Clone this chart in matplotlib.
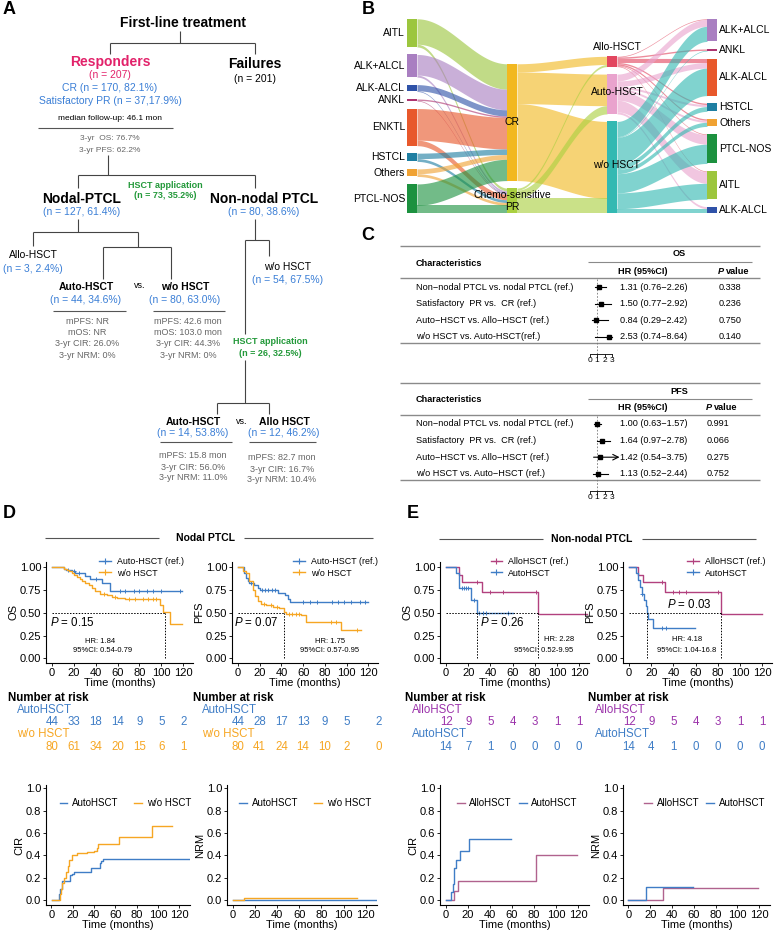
import numpy as np
import matplotlib.pyplot as plt
from matplotlib.lines import Line2D

plt.rcParams['font.family'] = ['Liberation Sans', 'DejaVu Sans']
plt.rcParams['mathtext.fontset'] = 'custom'
plt.rcParams['mathtext.it'] = 'Liberation Sans:italic'
plt.rcParams['mathtext.rm'] = 'Liberation Sans'

# ---------------- data ----------------
# Sankey (B)
sub_names = ["AITL", "ALK+ALCL", "ALK-ALCL", "ANKL", "ENKTL", "HSTCL", "Others", "PTCL-NOS"]
sub_colors = ["#9cc63e", "#a97fc1", "#2f52a8", "#ad3470", "#e8582b", "#1f7fa2", "#f0a233", "#1c913f"]
sub_cr = [37, 30, 9, 2, 46, 8, 7, 31]
sub_pr = [4, 3, 1, 1, 8, 4, 4, 12]
resp_names = ["CR", "Chemo-sensitive\nPR"]
resp_colors = ["#f2b820", "#aad040"]
hsct_names = ["Allo-HSCT", "Auto-HSCT", "w/o HSCT"]
hsct_colors = ["#e2465f", "#e9a3cd", "#33b9b2"]
cr_hsct = [12, 46, 112]
pr_hsct = [3, 12, 22]
right_names = ["ALK+ALCL", "ANKL", "ALK-ALCL", "HSTCL", "Others", "PTCL-NOS", "AITL", "ALK-ALCL"]
right_idx = [1, 3, 4, 5, 6, 7, 0, 2]
allo_sub = [1, 2, 6, 2, 2, 1, 1, 0]
auto_sub = [10, 0, 8, 3, 3, 14, 17, 3]
wo_sub = [22, 1, 40, 7, 6, 28, 23, 7]

# Forest (C)
forest_rows_os = ["Non\u2212nodal PTCL vs. nodal PTCL (ref.)", "Satisfactory  PR vs.  CR (ref.)",
                  "Auto\u2212HSCT vs. Allo\u2212HSCT (ref.)", "w/o HSCT vs. Auto-HSCT(ref.)"]
forest_rows_pfs = ["Non\u2212nodal PTCL vs. nodal PTCL (ref.)", "Satisfactory  PR vs.  CR (ref.)",
                   "Auto\u2212HSCT vs. Allo\u2212HSCT (ref.)", "w/o HSCT vs. Auto\u2212HSCT (ref.)"]
os_hr = [1.31, 1.50, 0.84, 2.53]
os_lo = [0.76, 0.77, 0.29, 0.74]
os_hi = [2.26, 2.92, 2.42, 8.64]
os_p = ["0.338", "0.236", "0.750", "0.140"]
pfs_hr = [1.00, 1.64, 1.42, 1.13]
pfs_lo = [0.63, 0.97, 0.54, 0.52]
pfs_hi = [1.57, 2.78, 3.75, 2.44]
pfs_p = ["0.991", "0.066", "0.275", "0.752"]
pfs_arrow = [False, False, True, False]

# KM curves (D, E)
d_os_auto_t = [0, 10.7, 13, 18, 21, 30.5, 35, 46, 53.4, 119]
d_os_auto_s = [1, 0.98, 0.97, 0.955, 0.93, 0.90, 0.87, 0.83, 0.74, 0.74]
d_os_auto_c = [15, 20, 25, 40, 62, 67, 75, 80, 87, 92, 100, 117]
d_os_wo_t = [0, 10.7, 13.7, 16, 18, 20, 23, 25.5, 27.5, 30, 33.6, 37, 39.7, 44, 50, 55, 59.5, 67, 98.6, 102, 107.8, 119]
d_os_wo_s = [1, 0.98, 0.97, 0.955, 0.94, 0.91, 0.89, 0.87, 0.85, 0.82, 0.80, 0.77, 0.74, 0.71, 0.69, 0.675,
             0.663, 0.652, 0.58, 0.507, 0.373, 0.373]
d_os_wo_c = [48, 58, 70, 76, 83, 88, 92, 95]

d_pfs_auto_t = [0, 6, 7.6, 9, 10.6, 15, 18, 20.7, 36.5, 43, 46, 48, 120]
d_pfs_auto_s = [1, 0.93, 0.88, 0.85, 0.82, 0.80, 0.77, 0.746, 0.717, 0.69, 0.65, 0.616, 0.616]
d_pfs_auto_c = [12, 22, 25, 28, 31, 34, 60, 66, 73, 87, 92, 98, 104, 112, 117]
d_pfs_wo_t = [0, 4.5, 7.6, 10.6, 13.7, 16, 18, 21, 26, 32, 38, 42.5, 44, 57.7, 63, 94.8, 113]
d_pfs_wo_s = [1, 0.96, 0.93, 0.85, 0.75, 0.68, 0.627, 0.60, 0.58, 0.565, 0.547, 0.507, 0.49, 0.48, 0.40, 0.31, 0.31]
d_pfs_wo_c = [24, 30, 36, 47, 50, 53, 56, 86, 90, 110]

e_os_allo_t = [0, 11.6, 14.7, 32.4, 83.4, 127]
e_os_allo_s = [1, 0.917, 0.833, 0.728, 0.49, 0.49]
e_os_allo_c = [27.5, 40, 51, 81]
e_os_auto_t = [0, 8.5, 11.6, 22.3, 27.8, 60.5]
e_os_auto_s = [1, 0.93, 0.775, 0.64, 0.50, 0.50]
e_os_auto_c = [14, 16, 18, 20, 25, 30, 33, 36, 56]

e_pfs_allo_t = [0, 8.4, 12.7, 32.6, 83, 120]
e_pfs_allo_s = [1, 0.917, 0.833, 0.728, 0.49, 0.49]
e_pfs_allo_c = [30, 40, 45, 51, 80]
e_pfs_auto_t = [0, 6.6, 8.4, 9.6, 11.5, 13.5, 15, 16, 17, 22, 59.4]
e_pfs_auto_s = [1, 0.93, 0.86, 0.78, 0.71, 0.64, 0.57, 0.50, 0.43, 0.333, 0.333]
e_pfs_auto_c = [12, 30, 33]

# number at risk
risk_times = [0, 20, 40, 60, 80, 100, 120]
risk_times_d_pfs = [0, 20, 40, 60, 80, 100, 130]
d_os_risk_auto = [44, 33, 18, 14, 9, 5, 2]
d_os_risk_wo = [80, 61, 34, 20, 15, 6, 1]
d_pfs_risk_auto = [44, 28, 17, 13, 9, 5, 2]
d_pfs_risk_wo = [80, 41, 24, 14, 10, 2, 0]
e_os_risk_allo = [12, 9, 5, 4, 3, 1, 1]
e_os_risk_auto = [14, 7, 1, 0, 0, 0, 0]
e_pfs_risk_allo = [12, 9, 5, 4, 3, 1, 1]
e_pfs_risk_auto = [14, 4, 1, 0, 0, 0, 0]

# cumulative incidence
d_cir_auto_t = [1, 7, 8, 10, 17.7, 19, 21.4, 37, 45.6, 46.5, 48.7, 128.7]
d_cir_auto_v = [0, 0.05, 0.1, 0.173, 0.22, 0.23, 0.248, 0.284, 0.33, 0.35, 0.367, 0.367]
d_cir_wo_t = [1, 7.8, 9, 10, 12, 14, 16, 17, 19, 24.5, 33, 40, 42.5, 44, 63.5, 94, 113]
d_cir_wo_v = [0, 0.05, 0.1, 0.15, 0.2, 0.25, 0.3, 0.36, 0.40, 0.42, 0.43, 0.44, 0.47, 0.50, 0.567, 0.663, 0.663]
d_nrm_auto_t = [0, 130]
d_nrm_auto_v = [0.0, 0.0]
d_nrm_wo_t = [0, 10, 112]
d_nrm_wo_v = [0, 0.015, 0.015]
e_cir_allo_t = [0, 7.4, 11.5, 81.7, 119]
e_cir_allo_v = [0, 0.08, 0.17, 0.403, 0.403]
e_cir_auto_t = [0, 5, 6.5, 7.4, 9.4, 13, 21.2, 59]
e_cir_auto_v = [0, 0.07, 0.14, 0.284, 0.358, 0.44, 0.546, 0.546]
e_nrm_allo_t = [0, 32, 119]
e_nrm_allo_v = [0, 0.105, 0.105]
e_nrm_auto_t = [0, 15.7, 59]
e_nrm_auto_v = [0, 0.112, 0.112]

# ---------------- colours ----------------
RED = "#e2226a"
BLUE_T = "#3a7ed6"
GREEN = "#23993a"
GRAY = "#666666"
KM_BLUE = "#3f7dc6"
KM_ORANGE = "#f6a623"
KM_PURPLE = "#b2417e"
RISK_PURPLE = "#9b32aa"
CIR_PURPLE = "#b0628e"

W, H = 782, 938
fig = plt.figure(figsize=(W / 100, H / 100), dpi=100)


def px_axes(x0, y0, x1, y1):
    ax = fig.add_axes([x0 / W, 1 - y1 / H, (x1 - x0) / W, (y1 - y0) / H])
    ax.patch.set_alpha(0)
    return ax


cv = px_axes(0, 0, W, H)
cv.set_xlim(0, W)
cv.set_ylim(H, 0)
cv.axis('off')


def seg(x0, y0, x1, y1, color="#444444", lw=0.8):
    cv.plot([x0, x1], [y0, y1], color=color, lw=lw, solid_capstyle='butt')


def txt(x, y, s, size, color="black", weight="normal", ha="center", style="normal"):
    cv.text(x, y, s, fontsize=size, color=color, fontweight=weight, ha=ha, va="center", style=style)


# panel letters
for lab, x, y in [("A", 9, 10), ("B", 368, 10), ("C", 368, 235), ("D", 9, 513), ("E", 413, 513)]:
    txt(x, y, lab, 13, weight="bold")

# ---------------- A: tree ----------------
txt(183, 23, "First-line treatment", 10, weight="bold")
seg(180, 31, 180, 43); seg(110, 43, 255, 43); seg(110, 43, 110, 54); seg(255, 43, 255, 54)
txt(110, 62, "Responders", 10, RED, "bold")
txt(110, 75, "(n = 207)", 7.5, RED)
txt(110, 88, "CR (n = 170, 82.1%)", 7.5, BLUE_T)
txt(110, 101, "Satisfactory PR (n = 37,17.9%)", 7.5, BLUE_T)
txt(110, 118, "median follow-up: 46.1 mon", 6)
seg(38, 128, 173, 128, "#555555")
txt(110, 139, "3-yr  OS: 76.7%", 6, GRAY)
txt(110, 150, "3-yr PFS: 62.2%", 6, GRAY)
txt(255, 64, "Failures", 10, weight="bold")
txt(255, 79, "(n = 201)", 7.5)
seg(108, 155, 108, 175); seg(78, 175, 255, 175); seg(78, 175, 78, 188); seg(255, 175, 255, 188)
txt(165, 185, "HSCT application", 6.5, GREEN, "bold")
txt(165, 196, "(n = 73, 35.2%)", 6.5, GREEN, "bold")
txt(82, 199, "Nodal-PTCL", 10, weight="bold")
txt(82, 212, "(n = 127, 61.4%)", 7.5, BLUE_T)
txt(264, 199, "Non-nodal PTCL", 10, weight="bold")
txt(264, 212, "(n = 80, 38.6%)", 7.5, BLUE_T)

seg(78, 219, 78, 232); seg(33, 232, 138, 232); seg(33, 232, 33, 246)
seg(138, 232, 138, 247); seg(103, 247, 171, 247); seg(103, 247, 103, 279); seg(171, 247, 171, 279)
txt(33, 255, "Allo-HSCT", 7.5)
txt(33, 269, "(n = 3, 2.4%)", 7.5, BLUE_T)
txt(86, 287, "Auto-HSCT", 7.5, weight="bold")
txt(86, 300, "(n = 44, 34.6%)", 7.5, BLUE_T)
txt(140, 286, "vs.", 6.5)
txt(185, 287, "w/o HSCT", 7.5, weight="bold")
txt(185, 300, "(n = 80, 63.0%)", 7.5, BLUE_T)
seg(53, 311, 126, 311, "#555555"); seg(153, 311, 225, 311, "#555555")
for i, (a, b) in enumerate(zip(["mPFS: NR", "mOS: NR", "3-yr CIR: 26.0%", "3-yr NRM: 0%"],
                               ["mPFS: 42.6 mon", "mOS: 103.0 mon", "3-yr CIR: 44.3%", "3-yr NRM: 0%"])):
    txt(87, 321 + i * 11.5, a, 6.5, GRAY)
    txt(188, 321 + i * 11.5, b, 6.5, GRAY)

seg(255, 219, 255, 240); seg(245, 240, 269, 240); seg(269, 240, 269, 256)
txt(288, 267, "w/o HSCT", 7.5)
txt(288, 280, "(n = 54, 67.5%)", 7.5, BLUE_T)
seg(245, 240, 245, 334); seg(245, 360, 245, 403)
txt(270, 341, "HSCT application", 6.5, GREEN, "bold")
txt(270, 353, "(n = 26, 32.5%)", 6.5, GREEN, "bold")
seg(217, 403, 269, 403); seg(217, 403, 217, 414); seg(269, 403, 269, 414)
txt(193, 422, "Auto-HSCT", 7.5, weight="bold")
txt(242, 421, "vs.", 6.5)
txt(284, 422, "Allo HSCT", 7.5, weight="bold")
txt(193, 433, "(n = 14, 53.8%)", 7.5, BLUE_T)
txt(284, 433, "(n = 12, 46.2%)", 7.5, BLUE_T)
seg(160, 442, 232, 442, "#555555"); seg(249, 442, 316, 442, "#555555")
for i, (a, b) in enumerate(zip(["mPFS: 15.8 mon", "3-yr CIR: 56.0%", "3-yr NRM: 11.0%"],
                               ["mPFS: 82.7 mon", "3-yr CIR: 16.7%", "3-yr NRM: 10.4%"])):
    txt(193, 456 + i * 11, a, 6.5, GRAY)
    txt(282, 458 + i * 11, b, 6.5, GRAY)

# ---------------- B: sankey ----------------
M1 = np.array([sub_cr, sub_pr]).T
M2 = np.array([cr_hsct, pr_hsct])
M3 = np.array([allo_sub, auto_sub, wo_sub])
col_vals = [M1.sum(1), M1.sum(0), M2.sum(0), M3.sum(0)]
SCALE, GAP, BOTTOM = 0.687, 7.5, 213.5
NODE_X = [407, 507, 607, 707]
NW = 10


def node_tops(vals):
    total = np.sum(vals) * SCALE + GAP * (len(vals) - 1)
    tops, y = [], BOTTOM - total
    for v in vals:
        tops.append(y)
        y += v * SCALE + GAP
    return tops


tops = [node_tops(v) for v in col_vals]
col_colors = [sub_colors, resp_colors, hsct_colors, [sub_colors[i] for i in right_idx]]

xs_t = np.linspace(0, 1, 60)
smooth = (1 - np.cos(np.pi * xs_t)) / 2
for k, M in enumerate([M1, M2, M3]):
    x0, x1 = NODE_X[k] + NW, NODE_X[k + 1]
    xs = x0 + (x1 - x0) * xs_t
    n_src, n_tgt = M.shape
    tgt_off = [0.0] * n_tgt
    for i in range(n_src):
        s_off = 0.0
        for j in range(n_tgt):
            v = M[i, j]
            if v <= 0:
                continue
            ys = tops[k][i] + s_off
            yt = tops[k + 1][j] + tgt_off[j]
            top = ys + (yt - ys) * smooth
            cv.fill_between(xs, top, top + v * SCALE, color=col_colors[k][i], alpha=0.62, lw=0)
            s_off += v * SCALE
            tgt_off[j] += v * SCALE

for k in range(4):
    for i, v in enumerate(col_vals[k]):
        cv.add_patch(plt.Rectangle((NODE_X[k], tops[k][i]), NW, v * SCALE, color=col_colors[k][i], lw=0))

for i, name in enumerate(sub_names):
    txt(NODE_X[0] - 2, tops[0][i] + col_vals[0][i] * SCALE / 2, name, 7.5, ha="right")
for i, name in enumerate(resp_names):
    txt(NODE_X[1] + NW / 2, tops[1][i] + col_vals[1][i] * SCALE / 2, name, 7.5)
txt(NODE_X[2] + 10, tops[2][0] - 9, hsct_names[0], 7.5)
for i in [1, 2]:
    txt(NODE_X[2] + 10, tops[2][i] + col_vals[2][i] * SCALE / 2 - 2, hsct_names[i], 7.5)
for i, name in enumerate(right_names):
    txt(NODE_X[3] + NW + 2, tops[3][i] + col_vals[3][i] * SCALE / 2, name, 7.5, ha="left")


# ---------------- C: forest tables ----------------
FS = 6.6


def forest(top, title, rows, hr, lo, hi, pv, p_x, arrows):
    lc = "#8a8a8a"
    seg(400, top, 760, top, lc, 1.0)
    txt(679, top + 8, title, FS, weight="bold")
    seg(588, top + 16, 752, top + 16, lc, 0.8)
    txt(416, top + 17, "Characteristics", FS, weight="bold", ha="left")
    txt(643, top + 25, "HR (95%CI)", FS, weight="bold")
    txt(p_x, top + 25, "P", FS, weight="bold", ha="left", style="italic")
    txt(p_x + 7.5, top + 25, "value", FS, weight="bold", ha="left")
    seg(400, top + 32, 760, top + 32, lc, 1.0)
    seg(400, top + 97, 760, top + 97, lc, 1.0)
    row_y = [top + 41 + r * 16.6 for r in range(len(rows))]
    for y, lab, h, l, u, p in zip(row_y, rows, hr, lo, hi, pv):
        txt(416, y, lab, FS, ha="left")
        txt(620, y, f"{h:.2f} ({l:.2f}\u2212{u:.2f})", FS, ha="left")
        txt(p_x + 1, y, p, FS, ha="left")
    fa = px_axes(583, top + 33, 622, top + 108)
    fa.set_xlim(-0.87, 4.33)
    fa.set_ylim(top + 108, top + 33)
    for sp in ["top", "right", "left"]:
        fa.spines[sp].set_visible(False)
    fa.spines["bottom"].set_bounds(0, 3)
    fa.spines["bottom"].set_linewidth(0.6)
    fa.set_yticks([])
    fa.set_xticks([0, 1, 2, 3])
    fa.tick_params(axis="x", labelsize=6, length=2, width=0.6, pad=0.5)
    fa.axvline(1, color="#777777", lw=0.6, ls=(0, (2, 2)))
    for y, h, l, u, a in zip(row_y, hr, lo, hi, arrows):
        if a:
            fa.annotate("", xy=(4.0, y), xytext=(l, y),
                        arrowprops=dict(arrowstyle="->", lw=0.8, color="black", shrinkA=0, shrinkB=0))
        else:
            fa.plot([l, min(u, 3.0)], [y, y], color="black", lw=0.8)
        fa.plot(h, y, "s", color="black", ms=2.6)


forest(246, "OS", forest_rows_os, os_hr, os_lo, os_hi, os_p, 718, [False] * 4)
forest(383, "PFS", forest_rows_pfs, pfs_hr, pfs_lo, pfs_hi, pfs_p, 706, pfs_arrow)

# ---------------- section titles ----------------
txt(205, 538, "Nodal PTCL", 7.5, weight="bold")
seg(45, 538, 159, 538, "#555555"); seg(244, 538, 373, 538, "#555555")
txt(592, 539, "Non-nodal PTCL", 7.5, weight="bold")
seg(439, 539, 543, 539, "#555555"); seg(642, 539, 756, 539, "#555555")


# ---------------- KM plots ----------------
def style_axes(ax, xlim, ylim, yticks, yfmt, ylabel):
    ax.set_xlim(*xlim)
    ax.set_ylim(*ylim)
    ax.spines[["top", "right"]].set_visible(False)
    for sp in ["left", "bottom"]:
        ax.spines[sp].set_linewidth(0.8)
    ax.set_xticks([0, 20, 40, 60, 80, 100, 120])
    ax.set_yticks(yticks)
    ax.set_yticklabels([yfmt % v for v in yticks])
    ax.tick_params(labelsize=8, length=2.5, width=0.6, pad=1)
    ax.set_xlabel("Time (months)", fontsize=8, labelpad=0)
    ax.set_ylabel(ylabel, fontsize=8, labelpad=1)


def km_plot(box, curves, medians, ylabel, ptxt, ppos, pha, hr, hrpos, cipos, leg_x):
    ax = px_axes(*box)
    style_axes(ax, (-5.5, 129), (-0.05, 1.055), [0, 0.25, 0.5, 0.75, 1.0], "%.2f", ylabel)
    handles = []
    for t, s, c, col, lab in curves:
        t, s = np.array(t), np.array(s)
        ax.step(t, s, where="post", color=col, lw=1)
        idx = np.searchsorted(t, c, side="right") - 1
        ax.plot(c, s[idx], "+", color=col, ms=3.5, mew=0.7)
        handles.append(Line2D([], [], color=col, lw=1, marker="+", ms=4, mew=0.8, label=lab))
    ax.plot([0, max(medians)], [0.5, 0.5], color="black", lw=0.7, ls=(0, (1.5, 1.5)))
    for m in medians:
        ax.plot([m, m], [0, 0.5], color="black", lw=0.7, ls=(0, (1.5, 1.5)))
    ax.text(ppos[0], ppos[1], ptxt, fontsize=8.3, ha=pha, va="center")
    ax.text(hrpos[0], hrpos[1], hr[0], fontsize=5.5, ha="center", va="center")
    ax.text(cipos[0], cipos[1], hr[1], fontsize=5.5, ha="center", va="center")
    ax.legend(handles=handles, loc="upper left", bbox_to_anchor=(leg_x, 1.09), frameon=False,
              fontsize=6.4, handlelength=1.3, handletextpad=0.7, labelspacing=0.25, borderpad=0)
    return ax


km_plot((46, 562, 193, 663),
        [(d_os_auto_t, d_os_auto_s, d_os_auto_c, KM_BLUE, "Auto-HSCT (ref.)"),
         (d_os_wo_t, d_os_wo_s, d_os_wo_c, KM_ORANGE, "w/o HSCT")],
        [103], "OS", "$P$ = 0.15", (-2, 0.39), "left", ("HR: 1.84", "95%CI: 0.54-0.79"),
        (44, 0.19), (46, 0.09), 0.33)
km_plot((232, 562, 378, 663),
        [(d_pfs_auto_t, d_pfs_auto_s, d_pfs_auto_c, KM_BLUE, "Auto-HSCT (ref.)"),
         (d_pfs_wo_t, d_pfs_wo_s, d_pfs_wo_c, KM_ORANGE, "w/o HSCT")],
        [42.5], "PFS", "$P$ = 0.07", (-3.5, 0.39), "left", ("HR: 1.75", "95%CI: 0.57-0.95"),
        (85, 0.19), (84, 0.09), 0.39)
km_plot((440, 562, 589, 663),
        [(e_os_allo_t, e_os_allo_s, e_os_allo_c, KM_PURPLE, "AlloHSCT (ref.)"),
         (e_os_auto_t, e_os_auto_s, e_os_auto_c, KM_BLUE, "AutoHSCT")],
        [28, 83], "OS", "$P$ = 0.26", (51, 0.39), "center", ("HR: 2.28", "95%CI: 0.52-9.95"),
        (102, 0.21), (88, 0.09), 0.31)
km_plot((623, 562, 772, 663),
        [(e_pfs_allo_t, e_pfs_allo_s, e_pfs_allo_c, KM_PURPLE, "AlloHSCT (ref.)"),
         (e_pfs_auto_t, e_pfs_auto_s, e_pfs_auto_c, KM_BLUE, "AutoHSCT")],
        [16.5, 83], "PFS", "$P$ = 0.03", (54, 0.59), "center", ("HR: 4.18", "95%CI: 1.04-16.8"),
        (52, 0.21), (52, 0.09), 0.40)


# ---------------- number at risk ----------------
def risk_table(x_title, x_group, box, times, groups):
    txt(x_title, 698, "Number at risk", 8.3, weight="bold", ha="left")
    ax = px_axes(*box)
    ax.set_xlim(-5.5, 129)
    ax.set_ylim(box[3], box[1])
    ax.axis("off")
    for (name, nums, col), yl, yn in zip(groups, [710, 734], [722, 747]):
        txt(x_group, yl, name, 8.3, col, ha="left")
        for t, n in zip(times, nums):
            ax.text(t, yn, str(n), fontsize=8.3, color=col, ha="center", va="center", clip_on=False)


risk_table(8, 17, (46, 700, 193, 755), risk_times,
           [("AutoHSCT", d_os_risk_auto, KM_BLUE), ("w/o HSCT", d_os_risk_wo, KM_ORANGE)])
risk_table(193, 202, (232, 700, 378, 755), risk_times_d_pfs,
           [("AutoHSCT", d_pfs_risk_auto, KM_BLUE), ("w/o HSCT", d_pfs_risk_wo, KM_ORANGE)])
risk_table(405, 412, (440, 700, 589, 755), risk_times,
           [("AlloHSCT", e_os_risk_allo, RISK_PURPLE), ("AutoHSCT", e_os_risk_auto, KM_BLUE)])
risk_table(588, 595, (623, 700, 772, 755), risk_times,
           [("AlloHSCT", e_pfs_risk_allo, RISK_PURPLE), ("AutoHSCT", e_pfs_risk_auto, KM_BLUE)])


# ---------------- CIR / NRM ----------------
def ci_plot(box, curves, ylabel, leg_x, colsp):
    ax = px_axes(*box)
    style_axes(ax, (-5, 130), (-0.045, 1.03), [0, 0.2, 0.4, 0.6, 0.8, 1.0], "%.1f", ylabel)
    for t, v, col, lab in curves:
        ax.step(t, v, where="post", color=col, lw=1, label=lab)
    ax.legend(loc="upper left", bbox_to_anchor=(leg_x, 0.93), ncol=2, frameon=False, fontsize=7,
              handlelength=0.8, handletextpad=0.5, columnspacing=colsp, borderpad=0)


ci_plot((46, 785, 190, 905), [(d_cir_auto_t, d_cir_auto_v, KM_BLUE, "AutoHSCT"),
                              (d_cir_wo_t, d_cir_wo_v, KM_ORANGE, "w/o HSCT")], "CIR", 0.06, 1.6)
ci_plot((227, 785, 377, 905), [(d_nrm_auto_t, d_nrm_auto_v, KM_BLUE, "AutoHSCT"),
                               (d_nrm_wo_t, d_nrm_wo_v, KM_ORANGE, "w/o HSCT")], "NRM", 0.05, 1.6)
ci_plot((440, 785, 589, 905), [(e_cir_allo_t, e_cir_allo_v, CIR_PURPLE, "AlloHSCT"),
                               (e_cir_auto_t, e_cir_auto_v, KM_BLUE, "AutoHSCT")], "CIR", 0.08, 0.7)
ci_plot((623, 785, 770, 905), [(e_nrm_allo_t, e_nrm_allo_v, CIR_PURPLE, "AlloHSCT"),
                               (e_nrm_auto_t, e_nrm_auto_v, KM_BLUE, "AutoHSCT")], "NRM", 0.11, 0.7)

fig.savefig("out.png", dpi=100)
